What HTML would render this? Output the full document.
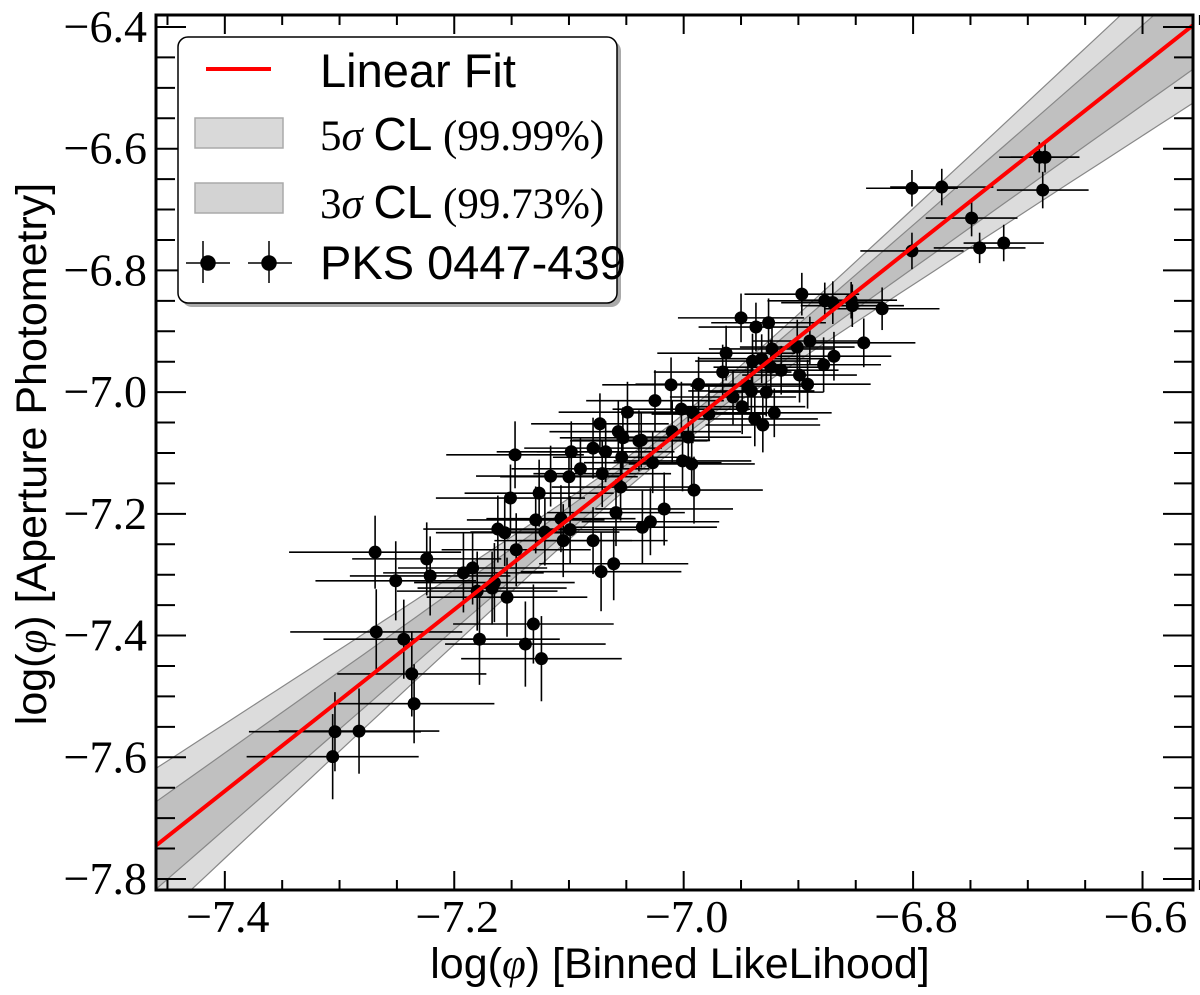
<!DOCTYPE html>
<html><head><meta charset="utf-8">
<style>
html,body{margin:0;padding:0;background:#fff;}
svg{display:block;}
.tick{font-family:"Liberation Serif",serif;font-size:46px;fill:#000;}
.lab{font-family:"Liberation Sans",sans-serif;font-size:43px;fill:#000;}
.leg{font-family:"Liberation Sans",sans-serif;font-size:47px;fill:#000;}
.legs{font-family:"Liberation Serif",serif;font-size:43px;fill:#000;}
</style></head>
<body>
<svg id="chart" width="1200" height="995" viewBox="0 0 1200 995" xmlns="http://www.w3.org/2000/svg">
  <defs><clipPath id="plotclip"><rect x="156" y="15" width="1037" height="875"/></clipPath></defs>
  <g id="bands" clip-path="url(#plotclip)"></g>
  <g id="points" clip-path="url(#plotclip)"></g>
  <g id="fit" clip-path="url(#plotclip)"></g>
  <rect x="156" y="15" width="1037" height="875" fill="none" stroke="#000" stroke-width="3"/>
  <g id="ticks"></g>
  <text class="lab" x="680" y="978" text-anchor="middle">log(<tspan font-family="Liberation Serif" font-style="italic">φ</tspan>) [Binned LikeLihood]</text>
  <text class="lab" transform="translate(46,454) rotate(-90)" text-anchor="middle">log(<tspan font-family="Liberation Serif" font-style="italic">φ</tspan>) [Aperture Photometry]</text>
  <g>
    <rect x="182" y="41" width="439" height="266" rx="10" fill="#555" opacity="0.5"/>
    <rect x="178" y="37" width="439" height="266" rx="10" fill="#fff" stroke="#000" stroke-width="1.5"/>
    <line x1="206" y1="69" x2="271" y2="69" stroke="#ff0000" stroke-width="4"/>
    <text class="leg" x="320" y="87">Linear Fit</text>
    <rect x="195" y="118" width="88" height="30" fill="#d9d9d9" stroke="#aaa" stroke-width="1.5"/>
    <text class="legs" x="320" y="150">5<tspan font-style="italic">σ</tspan> <tspan font-family="Liberation Sans" font-size="46">CL</tspan> (99.99%)</text>
    <rect x="195" y="183" width="88" height="30" fill="#d3d3d3" stroke="#aaa" stroke-width="1.5"/>
    <text class="legs" x="320" y="218">3<tspan font-style="italic">σ</tspan> <tspan font-family="Liberation Sans" font-size="46">CL</tspan> (99.73%)</text>
    <g stroke="#000" stroke-width="1.5">
      <line x1="186" y1="263" x2="230" y2="263"/><line x1="203" y1="241" x2="203" y2="283"/>
      <line x1="248" y1="263" x2="292" y2="263"/><line x1="269" y1="241" x2="269" y2="283"/>
      <circle cx="208" cy="263" r="7" fill="#000"/><circle cx="269" cy="263" r="7" fill="#000"/>
    </g>
    <text class="leg" x="320" y="279">PKS 0447-439</text>
  </g>
</svg>
<script>
const xVals=[-6.690,-6.687,-6.685,-6.801,-6.775,-6.749,-6.742,-6.721,-6.801,-6.897,-6.877,-6.870,-6.854,-6.853,-6.827,-6.950,-6.937,-6.926,-6.843,-6.890,-6.901,-6.923,-6.963,-6.869,-6.878,-6.940,-6.932,-6.924,-6.915,-6.966,-6.899,-6.892,-7.011,-6.987,-6.944,-6.941,-6.928,-6.957,-7.025,-6.949,-7.002,-6.992,-6.978,-6.921,-6.938,-6.931,-7.010,-6.996,-7.037,-7.027,-7.001,-6.993,-7.147,-7.116,-7.100,-7.098,-7.079,-7.068,-7.073,-7.057,-7.053,-7.049,-7.039,-7.090,-7.071,-7.054,-7.151,-7.126,-7.129,-7.107,-7.162,-7.156,-7.121,-7.099,-7.105,-7.146,-7.079,-7.059,-7.055,-7.017,-7.036,-7.029,-6.991,-7.061,-7.072,-7.192,-7.184,-7.165,-7.167,-7.180,-7.154,-7.269,-7.251,-7.224,-7.221,-7.268,-7.244,-7.237,-7.235,-7.304,-7.283,-7.306,-7.178,-7.138,-7.131,-7.124];
const yVals=[-6.614,-6.668,-6.614,-6.665,-6.663,-6.714,-6.763,-6.755,-6.768,-6.839,-6.850,-6.853,-6.849,-6.858,-6.863,-6.878,-6.893,-6.886,-6.919,-6.916,-6.926,-6.929,-6.936,-6.941,-6.955,-6.949,-6.945,-6.959,-6.964,-6.967,-6.972,-6.987,-6.988,-6.987,-6.990,-6.998,-7.000,-7.008,-7.014,-7.024,-7.028,-7.034,-7.036,-7.034,-7.044,-7.054,-7.065,-7.074,-7.079,-7.116,-7.113,-7.118,-7.103,-7.138,-7.139,-7.098,-7.092,-7.098,-7.052,-7.065,-7.075,-7.033,-7.080,-7.126,-7.134,-7.107,-7.174,-7.166,-7.210,-7.208,-7.225,-7.231,-7.230,-7.226,-7.244,-7.259,-7.244,-7.198,-7.156,-7.192,-7.222,-7.213,-7.161,-7.282,-7.295,-7.297,-7.289,-7.313,-7.322,-7.327,-7.337,-7.263,-7.310,-7.274,-7.302,-7.394,-7.406,-7.463,-7.512,-7.558,-7.557,-7.599,-7.406,-7.414,-7.381,-7.438];
const xErr=[0.035,0.04,0.03,0.04,0.045,0.04,0.04,0.035,0.045,0.05,0.05,0.045,0.04,0.045,0.05,0.055,0.05,0.05,0.045,0.05,0.05,0.055,0.06,0.05,0.05,0.05,0.055,0.05,0.05,0.06,0.05,0.055,0.06,0.055,0.05,0.055,0.05,0.055,0.06,0.055,0.06,0.055,0.05,0.05,0.055,0.05,0.06,0.055,0.06,0.06,0.06,0.055,0.06,0.065,0.06,0.065,0.06,0.06,0.06,0.06,0.055,0.06,0.06,0.06,0.06,0.06,0.065,0.065,0.06,0.065,0.065,0.06,0.065,0.065,0.06,0.065,0.065,0.06,0.06,0.06,0.065,0.06,0.06,0.065,0.07,0.07,0.065,0.07,0.065,0.07,0.07,0.075,0.07,0.065,0.07,0.075,0.07,0.065,0.07,0.075,0.07,0.075,0.07,0.07,0.07,0.07];
const yErr=[0.025,0.03,0.025,0.03,0.03,0.03,0.025,0.03,0.03,0.035,0.03,0.035,0.03,0.035,0.035,0.04,0.04,0.04,0.04,0.04,0.045,0.04,0.045,0.04,0.045,0.045,0.04,0.045,0.04,0.045,0.045,0.04,0.045,0.045,0.04,0.045,0.04,0.045,0.05,0.045,0.045,0.05,0.045,0.04,0.045,0.045,0.05,0.05,0.045,0.05,0.05,0.05,0.055,0.05,0.05,0.05,0.05,0.05,0.05,0.05,0.05,0.05,0.05,0.05,0.055,0.05,0.055,0.055,0.055,0.055,0.055,0.055,0.055,0.055,0.06,0.06,0.055,0.055,0.055,0.06,0.06,0.055,0.055,0.06,0.065,0.065,0.06,0.065,0.06,0.065,0.065,0.06,0.065,0.06,0.065,0.07,0.065,0.07,0.065,0.065,0.07,0.07,0.075,0.07,0.065,0.07];
const xTicks=[-7.4,-7.2,-7.0,-6.8,-6.6];
const xTickLabels=["−7.4","−7.2","−7.0","−6.8","−6.6"];
const yTicks=[-6.4,-6.6,-6.8,-7.0,-7.2,-7.4,-7.6,-7.8];
const yTickLabels=["−6.4","−6.6","−6.8","−7.0","−7.2","−7.4","−7.6","−7.8"];
const fitSlope=[1.491];
const fitAnchor=[-7.46,-7.745];
const band5=[0.023,0.277];
const band3=[0.013,0.157];
const bandCenter=[-7.01];

const X0=156,X1=1193,Y0=15,Y1=890;
const XMIN=-7.46,XMAX=-6.556,YMIN=-7.8181,YMAX=-6.3803;
function sx(v){return X0+(v-XMIN)/(XMAX-XMIN)*(X1-X0);}
function sy(v){return Y1-(v-YMIN)/(YMAX-YMIN)*(Y1-Y0);}
const NS='http://www.w3.org/2000/svg';
function mk(tag,attrs,parent){const e=document.createElementNS(NS,tag);for(const k in attrs)e.setAttribute(k,attrs[k]);parent.appendChild(e);return e;}
function fitY(x){return fitAnchor[1]+fitSlope[0]*(x-fitAnchor[0]);}
function hw(b,x){const d=x-bandCenter[0];return Math.sqrt(b[0]*b[0]+b[1]*b[1]*d*d);}

const gb=document.getElementById('bands');
function band(b,fill,name){
  let up=[],dn=[];
  for(let i=0;i<=60;i++){const x=XMIN+(XMAX-XMIN)*i/60;up.push(sx(x).toFixed(1)+','+sy(fitY(x)+hw(b,x)).toFixed(1));dn.push(sx(x).toFixed(1)+','+sy(fitY(x)-hw(b,x)).toFixed(1));}
  const p=mk('polygon',{points:up.concat(dn.reverse()).join(' '),fill:fill,stroke:'#888','stroke-width':1.2},gb);
  
  
}
band(band5,'#dcdcdc','band-5sigma');
band(band3,'#c0c0c0','band-3sigma');

const gp=document.getElementById('points');
for(let i=0;i<xVals.length;i++){
  const g=mk('g',{stroke:'#000','stroke-width':1.6},gp);
  
  
  const cx=sx(xVals[i]),cy=sy(yVals[i]);
  mk('line',{x1:sx(xVals[i]-xErr[i]),x2:sx(xVals[i]+xErr[i]),y1:cy,y2:cy},g);
  mk('line',{x1:cx,x2:cx,y1:sy(yVals[i]-yErr[i]),y2:sy(yVals[i]+yErr[i])},g);
  mk('circle',{cx:cx,cy:cy,r:6.5,fill:'#000',stroke:'none'},g);
}

const gf=document.getElementById('fit');
const fl=mk('line',{x1:sx(XMIN),y1:sy(fitY(XMIN)),x2:sx(XMAX),y2:sy(fitY(XMAX)),stroke:'#ff0000','stroke-width':4},gf);



const gt=document.getElementById('ticks');
for(let v=-7.45;v<=-6.55;v+=0.05){
  const x=sx(v);const major=Math.abs(Math.round(v*5)-v*5)<1e-6;
  const L=major?19:10;
  mk('line',{x1:x,x2:x,y1:Y1,y2:Y1-L,stroke:'#000','stroke-width':2},gt);
  mk('line',{x1:x,x2:x,y1:Y0,y2:Y0+L,stroke:'#000','stroke-width':2},gt);
}
for(let v=-7.80;v<=-6.39;v+=0.05){
  const y=sy(v);const major=Math.abs(Math.round(v*5)-v*5)<1e-6;
  const L=major?30:19;
  mk('line',{x1:X0,x2:X0+L,y1:y,y2:y,stroke:'#000','stroke-width':2},gt);
  mk('line',{x1:X1,x2:X1-L,y1:y,y2:y,stroke:'#000','stroke-width':2},gt);
}
xTicks.forEach((v,i)=>{
  const t=mk('text',{x:sx(v)+3,y:932,'text-anchor':'middle',class:'tick'},gt);
  t.textContent=xTickLabels[i];
  
  
});
yTicks.forEach((v,i)=>{
  const t=mk('text',{x:147,y:sy(v)+15,'text-anchor':'end',class:'tick'},gt);
  t.textContent=yTickLabels[i];
  
  
});
</script>
</body></html>
